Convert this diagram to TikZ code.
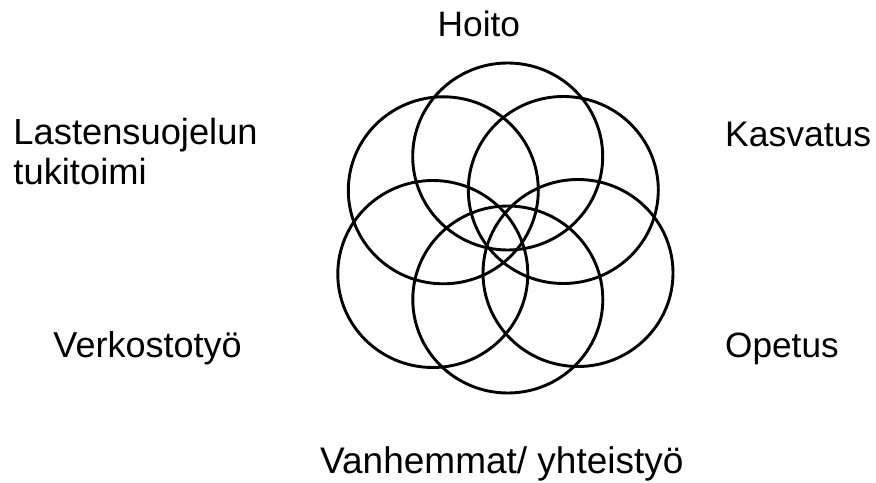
\documentclass[tikz,border=0pt]{standalone}
\usepackage{fontspec}
\setmainfont{Liberation Sans}
\begin{document}
\begin{tikzpicture}[x=1bp,y=-1bp,
  ring/.style={line width=2.9bp, black},
  lbl/.style={anchor=base west, inner sep=0pt, align=left},
  fs/.style={font=\fontsize{#1bp}{40bp}\selectfont}]
\useasboundingbox (0,0) rectangle (876,483);
\fill[white] (0,0) rectangle (876,483);
\coordinate (cT) at (507.7,156.5);
\coordinate (cUL) at (443.3,190.3);
\coordinate (cUR) at (563.3,190);
\coordinate (cLL) at (432.8,274);
\coordinate (cLR) at (578,273);
\coordinate (cB) at (507.8,299.5);
\foreach \c in {cT,cUL,cUR,cLL,cLR,cB}
  \draw[ring] (\c) ellipse [x radius=95, y radius=93.5];
\node[lbl,fs=35.3] (hoito) at (437.5,36.7) {Hoito};
\node[lbl,fs=36.3] (lasten) at (13.3,144.5) {Lastensuojelun};
\node[lbl,fs=36.3] (tuki) at (13.3,185) {tukitoimi};
\node[lbl,fs=35.5] (kasv) at (725,146.7) {Kasvatus};
\node[lbl,fs=36] (verk) at (53.3,357) {Verkostotyö};
\node[lbl,fs=35.2] (opet) at (725,357) {Opetus};
\node[lbl,fs=37] (vanh) at (320,473) {Vanhemmat/ yhteistyö};
\end{tikzpicture}
\end{document}
